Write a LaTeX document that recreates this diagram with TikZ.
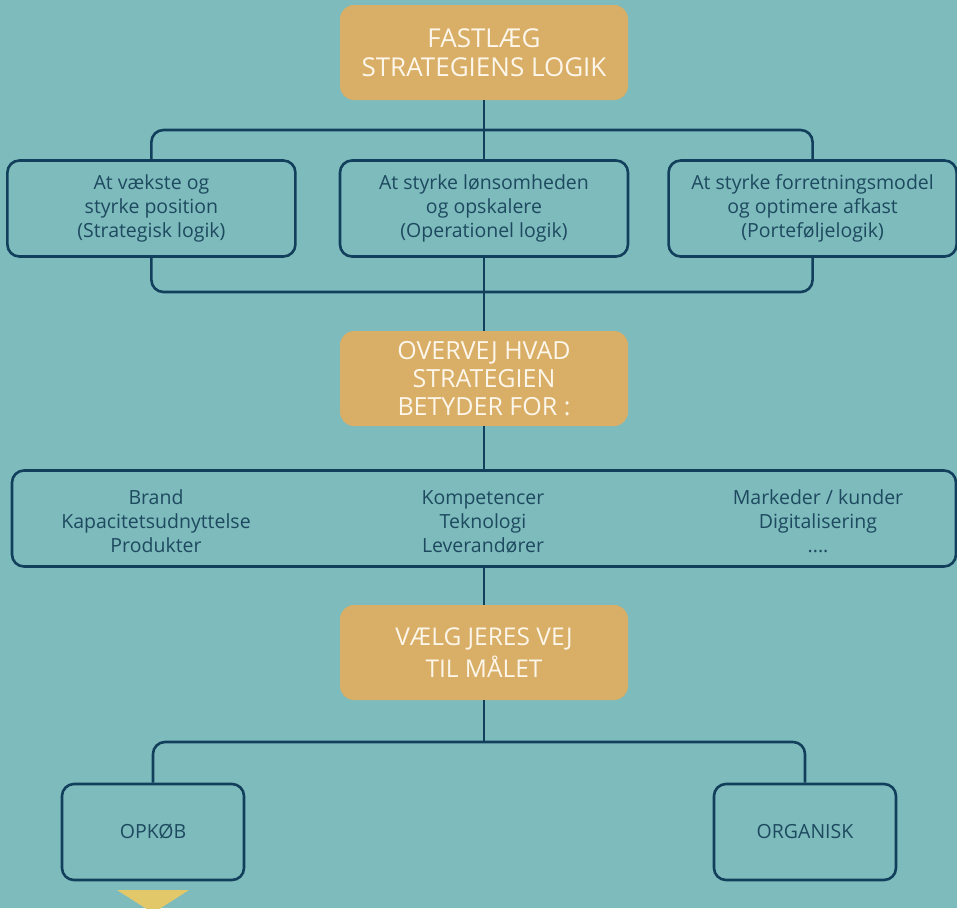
\documentclass[tikz,border=0pt]{standalone}
\usepackage{fontspec}
\setmainfont{Open Sans}
\usepackage{xcolor}
\usetikzlibrary{positioning}

\definecolor{bgteal}{HTML}{7EBBBD}
\definecolor{gold}{HTML}{D9AE66}
\definecolor{navy}{HTML}{123F5B}
\definecolor{navytext}{HTML}{1D4A5F}
\definecolor{cream}{HTML}{FDF6EA}
\definecolor{tri}{HTML}{E3C86A}

\begin{document}
\begin{tikzpicture}[
  x=1pt, y=-1pt,
  node distance=40pt,
  stepbox/.style={fill=gold, rounded corners=14pt, align=center, text=cream,
    minimum width=288pt, minimum height=95pt, inner sep=0pt,
    font=\fontsize{26}{29}\selectfont},
  box/.style={draw=navy, line width=2.6pt, rounded corners=12pt, align=center,
    text=navytext, minimum width=288pt, minimum height=96pt, inner sep=0pt,
    font=\fontsize{19.5}{24}\selectfont},
  txt/.style={align=center, text=navytext, inner sep=0pt,
    font=\fontsize{19.5}{24}\selectfont},
  link/.style={draw=navy, line width=2.6pt, rounded corners=12pt}
]
  \fill[bgteal] (0,0) rectangle (957,908);
  \useasboundingbox (0,0) rectangle (957,908);

  % steps and options
  \node[stepbox] (fastlaeg) at (484,52.5) {FASTLÆG\\STRATEGIENS LOGIK};
  \node[box, below=59pt of fastlaeg] (operationel) {At styrke lønsomheden\\og opskalere\\(Operationel logik)};
  \node[box, left=42pt of operationel] (strategisk) {At vækste og\\styrke position\\(Strategisk logik)};
  \node[box, right=38pt of operationel] (portefolje) {At styrke forretningsmodel\\og optimere afkast\\(Porteføljelogik)};
  \node[stepbox, below=73pt of operationel, font=\fontsize{25}{28}\selectfont] (overvej) {OVERVEJ HVAD\\STRATEGIEN\\BETYDER FOR :};
  \node[box, below=43pt of overvej, minimum width=944pt] (omraader) {};
  \node[txt] (colA) at ([xshift=-328pt, yshift=-3pt]omraader.center) {Brand\\Kapacitetsudnyttelse\\Produkter};
  \node[txt] (colB) at ([xshift=-1pt, yshift=-3pt]omraader.center) {Kompetencer\\Teknologi\\Leverandører};
  \node[txt] (colC) at ([xshift=334pt, yshift=-3pt]omraader.center) {Markeder / kunder\\Digitalisering\\....};
  \node[stepbox, below=37pt of omraader, font=\fontsize{24.5}{32}\selectfont] (vaelg) {VÆLG JERES VEJ\\TIL MÅLET};
  \node[box, minimum width=182pt] (opkob) at (153,832) {OPKØB};
  \node[box, minimum width=182pt] (organisk) at (805,832) {ORGANISK};

  % junctions
  \coordinate (j1) at (484,130);
  \coordinate (j2) at (484,292);
  \coordinate (j3) at (484,742);

  \draw[link] (fastlaeg) -- (j1);
  \draw[link] (strategisk.north) |- (j1) -| (portefolje.north);
  \draw[link] (j1) -- (operationel);
  \draw[link] (strategisk.south) |- (j2) -| (portefolje.south);
  \draw[link] (operationel) -- (overvej);
  \draw[link] (overvej) -- (omraader);
  \draw[link] (omraader) -- (vaelg);
  \draw[link] (vaelg) -- (j3);
  \draw[link] (opkob) |- (j3) -| (organisk);

  \fill[tri] (117,890) -- (189,890) -- (153,913) -- cycle;
\end{tikzpicture}
\end{document}
